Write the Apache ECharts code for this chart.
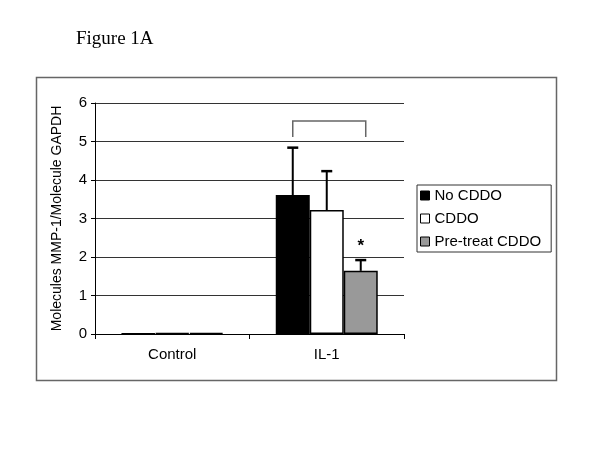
<!DOCTYPE html>
<html>
<head>
<meta charset="utf-8">
<script src="https://cdn.jsdelivr.net/npm/echarts@6/dist/echarts.min.js"></script>
<style>
  html, body { margin: 0; padding: 0; background: #fff; }
  #main { width: 600px; height: 450px; }
</style>
</head>
<body>
<div id="main"></div>
<script>
// 数据
const categories = ['Control', 'IL-1'];
const seriesNames = ['No CDDO', 'CDDO', 'Pre-treat CDDO'];
const noCddo = [0.01, 3.61];
const cddo = [0.02, 3.22];
const preTreat = [0.03, 1.64];
const noCddoErr = [0, 1.23];
const cddoErr = [0, 1.01];
const preTreatErr = [0, 0.28];
const yTicks = [0, 1, 2, 3, 4, 5, 6];
// 括号: 类别, 起始柱, 结束柱, 下端, 上端
const bracket = [[1, 0, 2, 5.12, 5.53]];
// 星号: 类别, 柱
const starred = [[1, 2]];

const barColors = ['#000000', '#ffffff', '#999999'];
const GAP = 0.34; //barCategoryGap

const values = [noCddo, cddo, preTreat];
const errs = [noCddoErr, cddoErr, preTreatErr];

const errData = [];
for (let s = 0; s < values.length; s++) {
  for (let c = 0; c < categories.length; c++) {
    if (errs[s][c] > 0) {
      const star = starred.some(p => p[0] === c && p[1] === s) ? 1 : 0;
      errData.push([c, values[s][c], errs[s][c], s, star]);
    }
  }
}

function barX(api, cat, s) { //柱中心x
  const bw = api.size([1, 0])[0] * (1 - GAP) / 3;
  return api.coord([cat, 0])[0] + (s - 1) * bw;
}

const chart = echarts.init(document.getElementById('main'), null, { renderer: 'canvas' });

const option = {
  animation: false,
  backgroundColor: '#fff',
  title: {
    text: 'Figure 1A',
    left: 71,
    top: 25,
    textStyle: { fontFamily: 'Liberation Serif', fontSize: 19, fontWeight: 'normal', color: '#000' }
  },
  graphic: [{
    type: 'rect',
    shape: { x: 36.5, y: 77.5, width: 520, height: 303 },
    style: { fill: 'none', stroke: '#666', lineWidth: 1.5 },
    silent: true
  }],
  legend: {
    data: seriesNames,
    orient: 'vertical',
    left: 417,
    top: 185,
    padding: [3, 10, 3, 3],
    itemWidth: 9,
    itemHeight: 9,
    itemGap: 8,
    icon: 'rect',
    borderColor: '#333',
    borderWidth: 1,
    itemStyle: { borderColor: '#000', borderWidth: 1 },
    textStyle: { fontFamily: 'Liberation Sans', fontSize: 15, color: '#000' }
  },
  grid: { left: 95, right: 196, top: 103, bottom: 116 },
  xAxis: {
    type: 'category',
    data: categories,
    axisLine: { lineStyle: { color: '#000', width: 1 } },
    axisTick: { show: true, length: 5, lineStyle: { color: '#000' } },
    axisLabel: { fontFamily: 'Liberation Sans', fontSize: 15, color: '#000', margin: 13 }
  },
  yAxis: {
    type: 'value',
    min: yTicks[0],
    max: yTicks[yTicks.length - 1],
    interval: 1,
    name: 'Molecules MMP-1/Molecule GAPDH',
    nameLocation: 'middle',
    nameGap: 31,
    nameTextStyle: { fontFamily: 'Liberation Sans', fontSize: 14, color: '#000' },
    axisLine: { show: true, lineStyle: { color: '#000', width: 1 } },
    axisTick: { show: true, length: 4, lineStyle: { color: '#000' } },
    axisLabel: { fontFamily: 'Liberation Sans', fontSize: 15, color: '#000', margin: 8 },
    splitLine: { show: true, lineStyle: { color: '#333', width: 1 } }
  },
  series: [
    ...seriesNames.map((name, i) => ({
      name: name,
      type: 'bar',
      data: values[i],
      barGap: '0%',
      barCategoryGap: (GAP * 100) + '%',
      itemStyle: { color: barColors[i], borderColor: '#000', borderWidth: 1.5 }
    })),
    {
      type: 'custom',
      name: 'err',
      data: errData,
      encode: { x: 0, y: 1 },
      z: 5,
      renderItem: function (params, api) {
        const c = api.value(0), v = api.value(1), e = api.value(2), s = api.value(3), star = api.value(4);
        const x = barX(api, c, s);
        const y0 = api.coord([c, v])[1];
        const y1 = api.coord([c, v + e])[1];
        const children = [
          { type: 'line', shape: { x1: x, y1: y0, x2: x, y2: y1 }, style: { stroke: '#000', lineWidth: 2 } },
          { type: 'line', shape: { x1: x - 5.5, y1: y1, x2: x + 5.5, y2: y1 }, style: { stroke: '#000', lineWidth: 2.5 } }
        ];
        if (star) {
          children.push({
            type: 'text',
            style: { x: x, y: y1 - 5, text: '*', fill: '#000', font: 'bold 17px "Liberation Sans"', align: 'center', verticalAlign: 'bottom' }
          });
        }
        return { type: 'group', children: children };
      }
    },
    {
      type: 'custom',
      name: 'bracket',
      data: bracket,
      encode: { x: 0, y: 4 },
      z: 5,
      renderItem: function (params, api) {
        const c = api.value(0);
        const xa = barX(api, c, api.value(1));
        const xb = barX(api, c, api.value(2)) + 5;
        const ylo = api.coord([c, api.value(3)])[1];
        const yhi = api.coord([c, api.value(4)])[1];
        return {
          type: 'polyline',
          shape: { points: [[xa, ylo], [xa, yhi], [xb, yhi], [xb, ylo]] },
          style: { stroke: '#666', lineWidth: 1.5, fill: 'none' }
        };
      }
    }
  ]
};

chart.setOption(option);
</script>
</body>
</html>
